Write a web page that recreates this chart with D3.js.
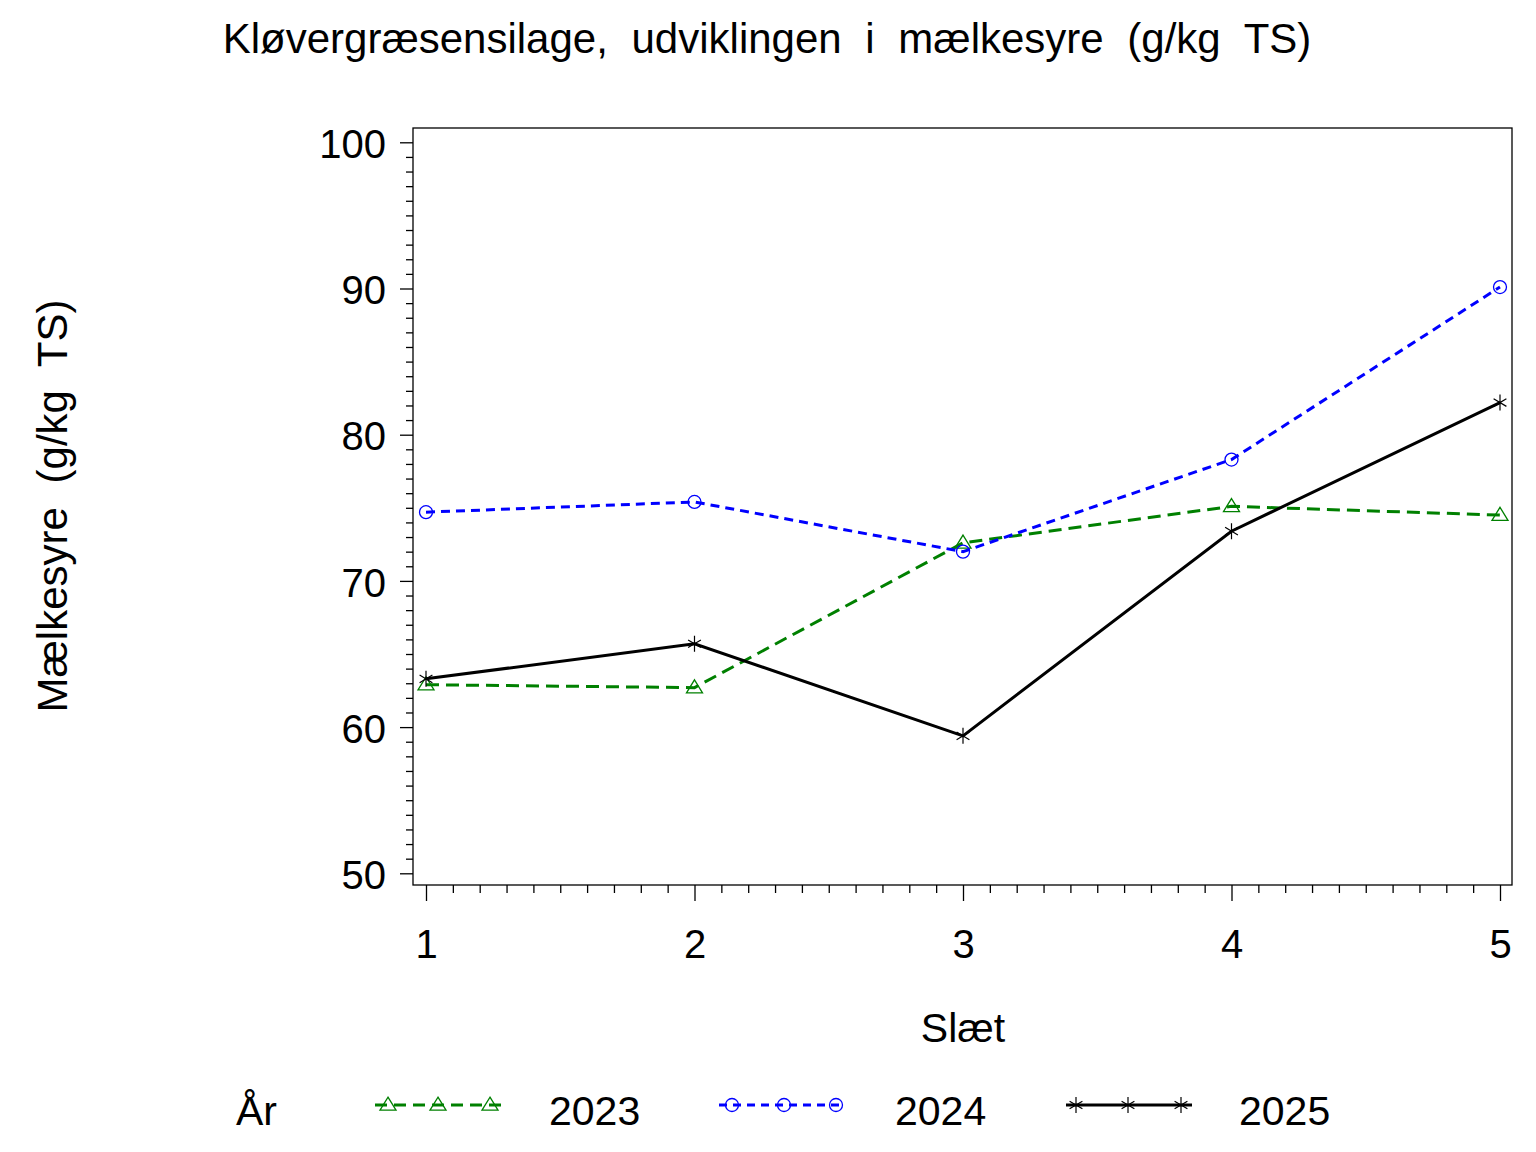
<!DOCTYPE html>
<html>
<head>
<meta charset="utf-8">
<script src="https://cdn.jsdelivr.net/npm/d3@7"></script>
<style>
  html, body { margin: 0; padding: 0; background: #fff; }
  svg { display: block; }
  text { font-family: "Liberation Sans", Arial, sans-serif; fill: #000; }
</style>
</head>
<body>
<svg id="chart" width="1536" height="1152"></svg>
<script>
// ---- data ----
const slaet = [1, 2, 3, 4, 5];
const years = ["2023", "2024", "2025"];
const values2023 = [62.9, 62.7, 72.6, 75.1, 74.5];
const values2024 = [74.7, 75.4, 72.0, 78.3, 90.1];
const values2025 = [63.3, 65.7, 59.4, 73.4, 82.2];
const yTicks = [50, 60, 70, 80, 90, 100];
const xTicks = [1, 2, 3, 4, 5];
const titleText = "Kløvergræsensilage, udviklingen i mælkesyre (g/kg TS)";
const yLabel = "Mælkesyre (g/kg TS)";
const xLabel = "Slæt";
const legendTitle = "År";

const seriesStyle = {
  "2023": { color: "#008000", dash: "13,7", legendDash: "12,7", marker: "triangle" },
  "2024": { color: "#0000ff", dash: "9,6", legendDash: "8,6", marker: "circle" },
  "2025": { color: "#000000", dash: null, legendDash: null, marker: "star" }
};
const seriesData = { "2023": values2023, "2024": values2024, "2025": values2025 };

const svg = d3.select("#chart");
const frame = { left: 413, top: 128, right: 1512, bottom: 885 };

const x = d3.scaleLinear().domain([1, 5]).range([426, 1500]);
const y = d3.scaleLinear().domain([50, 100]).range([873.3, 142.3]);

const FS = 40;

// frame
svg.append("rect")
  .attr("x", frame.left).attr("y", frame.top)
  .attr("width", frame.right - frame.left).attr("height", frame.bottom - frame.top)
  .attr("fill", "none").attr("stroke", "#000").attr("stroke-width", 1.3);

// y axis minor
const yMinor = d3.range(50, 101, 1).filter(v => v % 10 !== 0);
svg.append("g").attr("transform", `translate(${frame.left},0)`)
  .call(d3.axisLeft(y).tickValues(yMinor).tickSize(7).tickFormat(""))
  .call(g => g.select(".domain").remove())
  .call(g => g.selectAll("line").attr("stroke-width", 1.3));
// y axis major
svg.append("g").attr("transform", `translate(${frame.left},0)`)
  .call(d3.axisLeft(y).tickValues(yTicks).tickSize(13).tickPadding(14).tickFormat(d3.format("d")))
  .call(g => g.select(".domain").remove())
  .call(g => g.selectAll("line").attr("stroke-width", 1.3))
  .call(g => g.selectAll("text")
    .attr("font-size", FS).attr("font-family", "Liberation Sans, Arial, sans-serif")
    .attr("fill", "#000").attr("dy", "0.38em").attr("y", 0));

// x axis minor
const xMinor = d3.range(10, 51, 1).map(v => v / 10).filter(v => Math.abs(v - Math.round(v)) > 1e-9);
svg.append("g").attr("transform", `translate(0,${frame.bottom})`)
  .call(d3.axisBottom(x).tickValues(xMinor).tickSize(8).tickFormat(""))
  .call(g => g.select(".domain").remove())
  .call(g => g.selectAll("line").attr("stroke-width", 1.3));
// x axis major
svg.append("g").attr("transform", `translate(0,${frame.bottom})`)
  .call(d3.axisBottom(x).tickValues(xTicks).tickSize(16).tickFormat(d3.format("d")))
  .call(g => g.select(".domain").remove())
  .call(g => g.selectAll("line").attr("stroke-width", 1.3))
  .call(g => g.selectAll("text")
    .attr("font-size", FS).attr("font-family", "Liberation Sans, Arial, sans-serif")
    .attr("fill", "#000").attr("dy", null).attr("y", 73));

// title
svg.append("text")
  .attr("x", 767).attr("y", 53)
  .attr("text-anchor", "middle")
  .attr("font-size", 42)
  .attr("word-spacing", 12)
  .text(titleText);

// y label
svg.append("text")
  .attr("transform", `translate(67,506) rotate(-90)`)
  .attr("text-anchor", "middle")
  .attr("font-size", 42)
  .attr("word-spacing", 12)
  .text(yLabel);

// x label
svg.append("text")
  .attr("x", 963).attr("y", 1042)
  .attr("text-anchor", "middle")
  .attr("font-size", 41)
  .text(xLabel);

// marker drawing
function drawMarker(g, type, cx, cy, color) {
  if (type === "triangle") {
    const w = 8, h = 13;
    g.append("path")
      .attr("d", `M${cx},${cy - h * 0.6} L${cx + w},${cy + h * 0.4} L${cx - w},${cy + h * 0.4} Z`)
      .attr("fill", "none").attr("stroke", color).attr("stroke-width", 1.3);
  } else if (type === "circle") {
    g.append("circle").attr("cx", cx).attr("cy", cy).attr("r", 6.5)
      .attr("fill", "none").attr("stroke", color).attr("stroke-width", 1.3);
  } else if (type === "star") {
    const r = 8;
    const d = r * 0.8;
    g.append("path")
      .attr("d", `M${cx},${cy - r} L${cx},${cy + r} M${cx - d},${cy - d * 0.6} L${cx + d},${cy + d * 0.6} M${cx - d},${cy + d * 0.6} L${cx + d},${cy - d * 0.6}`)
      .attr("fill", "none").attr("stroke", color).attr("stroke-width", 1.2);
  }
}

const line = d3.line().x((d, i) => x(slaet[i])).y(d => y(d));

years.forEach(yr => {
  const st = seriesStyle[yr];
  const vals = seriesData[yr];
  const g = svg.append("g");
  g.append("path").datum(vals)
    .attr("d", line)
    .attr("fill", "none")
    .attr("stroke", st.color)
    .attr("stroke-width", 3)
    .attr("stroke-dasharray", st.dash);
  vals.forEach((v, i) => drawMarker(g, st.marker, x(slaet[i]), y(v), st.color));
});

// legend
const legY = 1105;
svg.append("text").attr("x", 236).attr("y", 1125).attr("font-size", 41).text(legendTitle);
const legendItems = [
  { yr: "2023", x0: 375, x1: 502, marks: [388, 438, 490], tx: 549 },
  { yr: "2024", x0: 719, x1: 842, marks: [732, 784, 836], tx: 895 },
  { yr: "2025", x0: 1066, x1: 1192, marks: [1076, 1128, 1181], tx: 1239 }
];
legendItems.forEach(it => {
  const st = seriesStyle[it.yr];
  const g = svg.append("g");
  g.append("line").attr("x1", it.x0).attr("x2", it.x1).attr("y1", legY).attr("y2", legY)
    .attr("stroke", st.color).attr("stroke-width", 3).attr("stroke-dasharray", st.legendDash);
  it.marks.forEach(mx => drawMarker(g, st.marker, mx, legY, st.color));
  g.append("text").attr("x", it.tx).attr("y", 1125).attr("font-size", 41).text(it.yr);
});
</script>
</body>
</html>
